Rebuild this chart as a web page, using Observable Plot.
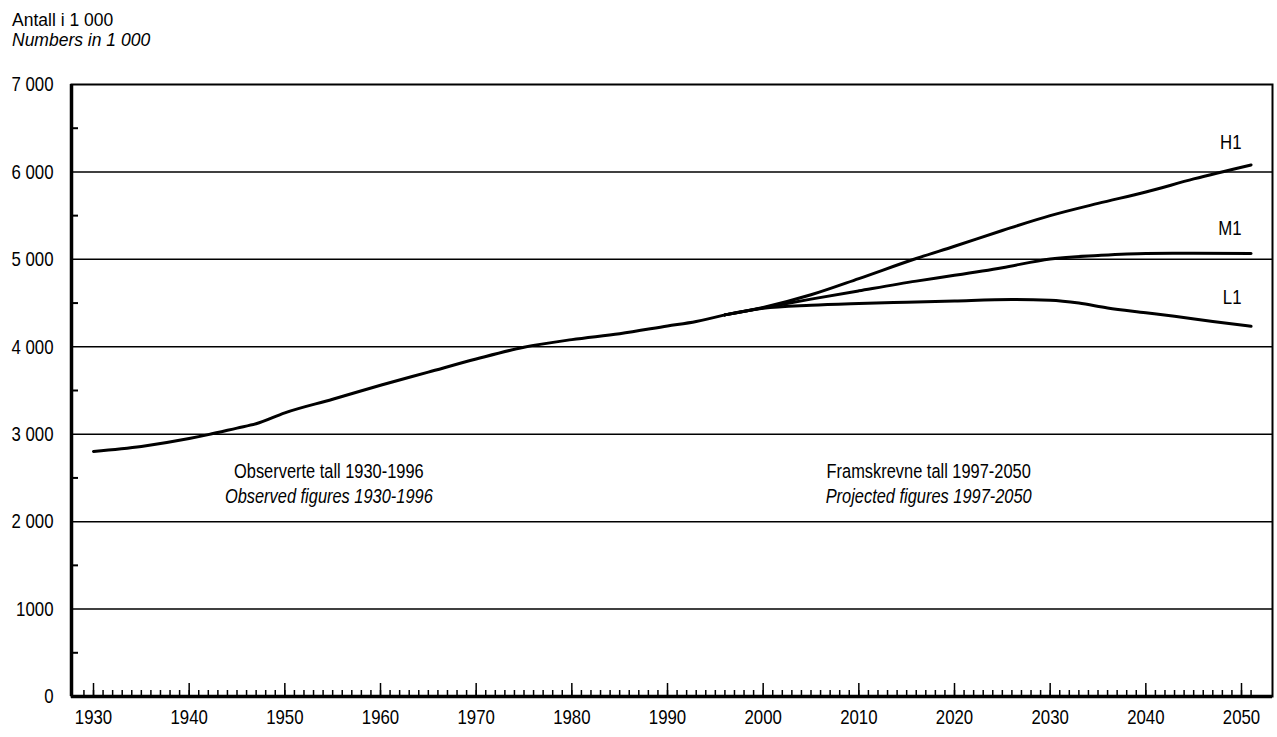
<!DOCTYPE html>
<html>
<head>
<meta charset="utf-8">
<script src="https://cdn.jsdelivr.net/npm/d3@7"></script>
<script src="https://cdn.jsdelivr.net/npm/@observablehq/plot@0.6"></script>
<style>
  html, body { margin: 0; padding: 0; background: #fff; }
  body { width: 1277px; height: 737px; overflow: hidden; font-family: "Liberation Sans", Arial, sans-serif; color: #000; }
  #header { height: 45px; box-sizing: border-box; padding: 11px 0 0 12px; font-size: 17.5px; }
  #header div { height: 19.5px; line-height: 19.5px; white-space: nowrap; }
  #header .it { font-style: italic; }
  #chart svg { display: block; }
</style>
</head>
<body>
<div id="header">
  <div>Antall i 1 000</div>
  <div class="it">Numbers in 1 000</div>
</div>
<div id="chart"></div>
<script>
// ---- Data (population in thousands) ----
const observedYears  = [1930, 1935, 1940, 1942, 1945, 1947, 1950, 1955, 1960, 1965, 1970, 1975, 1980, 1985, 1990, 1993, 1996];
const observedValues = [2803, 2860, 2950, 2995, 3070, 3120, 3245, 3400, 3560, 3710, 3860, 3995, 4082, 4150, 4238, 4290, 4365];

const h1Years  = [1996, 2000, 2005, 2010, 2016, 2020, 2025, 2030, 2035, 2040, 2045, 2051];
const h1Values = [4365, 4450, 4595, 4780, 5010, 5150, 5330, 5500, 5640, 5770, 5920, 6080];

const m1Years  = [1996, 2000, 2005, 2010, 2016, 2020, 2025, 2030, 2035, 2040, 2045, 2051];
const m1Values = [4365, 4445, 4545, 4640, 4751, 4817, 4905, 5005, 5045, 5068, 5070, 5068];

const l1Years  = [1996, 2000, 2005, 2010, 2015, 2020, 2026, 2030, 2033, 2036, 2040, 2043, 2047, 2051];
const l1Values = [4365, 4440, 4475, 4495, 4510, 4525, 4540, 4532, 4500, 4444, 4390, 4349, 4290, 4235];

const seriesNames = ["H1", "M1", "L1"];

const yTickValues = [0, 1000, 2000, 3000, 4000, 5000, 6000, 7000];
const yTickLabels = ["0", "1000", "2 000", "3 000", "4 000", "5 000", "6 000", "7 000"];
const yMinorTicks = [500, 1500, 2500, 3500, 4500, 5500, 6500];
const xMajorTicks = [1930, 1940, 1950, 1960, 1970, 1980, 1990, 2000, 2010, 2020, 2030, 2040, 2050];
const xMinorTicks = d3.range(1929, 2052);

const noteObservedNo = "Observerte tall 1930-1996";
const noteObservedEn = "Observed figures 1930-1996";
const noteProjectedNo = "Framskrevne tall 1997-2050";
const noteProjectedEn = "Projected figures 1997-2050";

// ---- Tables ----
const toRows = (years, values) => years.map((year, i) => ({year, value: values[i]}));
const observed = toRows(observedYears, observedValues);
const h1 = toRows(h1Years, h1Values);
const m1 = toRows(m1Years, m1Values);
const l1 = toRows(l1Years, l1Values);
const yLabelMap = new Map(yTickValues.map((v, i) => [v, yTickLabels[i]]));

const FONT = '"Liberation Sans", Arial, sans-serif';
const xDomain = [1927.7, 2053.24];

const lineOpts = {x: "year", y: "value", stroke: "black", strokeWidth: 3, curve: "monotone-x"};

const chart = Plot.plot({
  width: 1277,
  height: 692,
  marginTop: 39,
  marginBottom: 41,
  marginLeft: 71,
  marginRight: 5,
  x: {domain: xDomain},
  y: {domain: [0, 7000]},
  style: {fontFamily: FONT, fontSize: "21px", color: "black", background: "white", overflow: "visible"},
  marks: [
    Plot.ruleY(yTickValues.slice(1, -1), {stroke: "black", strokeWidth: 1.5}),
    Plot.axisY(yTickValues, {tickSize: 0, tickPadding: 18, tickFormat: d => yLabelMap.get(d), fontSize: 21, label: null}),
    Plot.axisY(yMinorTicks, {tickSize: -7, text: null, strokeWidth: 2, label: null}),
    Plot.axisX(xMajorTicks, {tickSize: 0, tickPadding: 13, tickFormat: d => String(d), fontSize: 21, label: null}),
    Plot.axisX(xMajorTicks, {tickSize: -13, text: null, strokeWidth: 1.5, label: null}),
    Plot.axisX(xMinorTicks, {tickSize: -6, text: null, strokeWidth: 1.5, label: null}),
    Plot.frame({stroke: "black", strokeWidth: 2}),
    Plot.ruleX([xDomain[0]], {stroke: "black", strokeWidth: 3.5}),
    Plot.ruleY([0], {stroke: "black", strokeWidth: 3.5}),
    Plot.line(observed, lineOpts),
    Plot.line(h1, lineOpts),
    Plot.line(m1, lineOpts),
    Plot.line(l1, lineOpts),
    Plot.text([seriesNames[0]], {x: 2050, y: 6337, text: d => d, textAnchor: "end", fontSize: 21}),
    Plot.text([seriesNames[1]], {x: 2050, y: 5353, text: d => d, textAnchor: "end", fontSize: 21}),
    Plot.text([seriesNames[2]], {x: 2050, y: 4564, text: d => d, textAnchor: "end", fontSize: 21}),
    Plot.text([noteObservedNo], {x: 1954.6, y: 2574, text: d => d, fontSize: 20.5}),
    Plot.text([noteObservedEn], {x: 1954.6, y: 2288, text: d => d, fontSize: 20.5, fontStyle: "italic"}),
    Plot.text([noteProjectedNo], {x: 2017.3, y: 2574, text: d => d, fontSize: 20.5}),
    Plot.text([noteProjectedEn], {x: 2017.3, y: 2288, text: d => d, fontSize: 20.5, fontStyle: "italic"})
  ]
});
document.getElementById("chart").appendChild(chart);

// Condense the text horizontally (the reference uses a narrow grotesque face)
chart.querySelectorAll("text").forEach(t => {
  const len = t.getComputedTextLength();
  if (len > 0) {
    t.setAttribute("textLength", (len * 0.8).toFixed(2));
    t.setAttribute("lengthAdjust", "spacingAndGlyphs");
  }
});
</script>
</body>
</html>
